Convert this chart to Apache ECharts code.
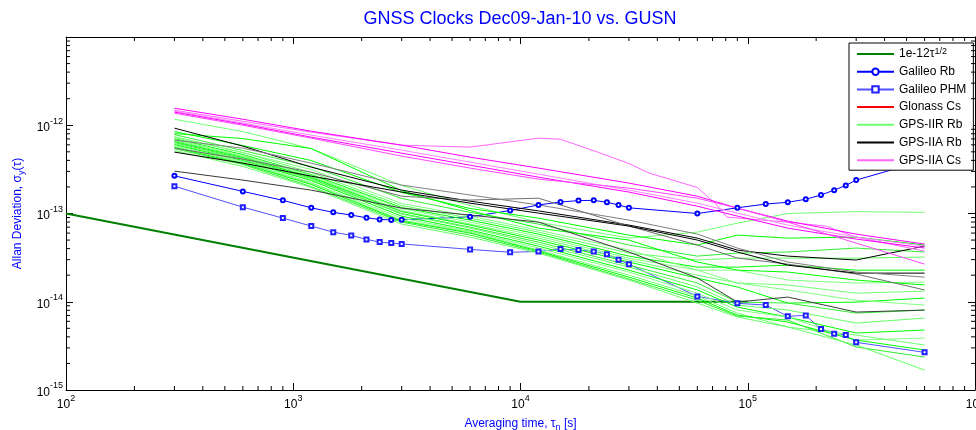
<!DOCTYPE html>
<html><head><meta charset="utf-8">
<script src="https://cdn.jsdelivr.net/npm/echarts@6/dist/echarts.min.js"></script>
<style>html,body{margin:0;padding:0;background:#fff}#c{width:976px;height:430px}</style>
</head><body><div id="c"></div>
<script>
// ---------------- data ----------------
const chartTitle = 'GNSS Clocks Dec09-Jan-10 vs. GUSN';
const xTitle = 'Averaging time, τ{sub|n} [s]';
const yTitle = 'Allan Deviation, σ{sub|y}(τ)';
const legendNames = ['1e-12τ^1/2', 'Galileo Rb', 'Galileo PHM', 'Glonass Cs', 'GPS-IIR Rb', 'GPS-IIA Rb', 'GPS-IIA Cs'];

// reference slope line
const refTau = [100, 10000, 100000];
const refAdev = [1e-13, 1e-14, 1e-14];

// Galileo clocks
const galTau = [300,600,900,1200,1500,1800,2100,2400,2700,3000,6000,9000,12000,15000,18000,21000,24000,27000,30000,60000,90000,120000,150000,180000,210000,240000,270000,300000,600000];
const galileoRb = [2.67e-13,1.78e-13,1.41e-13,1.16e-13,1.03e-13,9.6e-14,8.94e-14,8.57e-14,8.45e-14,8.5e-14,9.17e-14,1.08e-13,1.25e-13,1.35e-13,1.40e-13,1.41e-13,1.34e-13,1.25e-13,1.16e-13,1.0e-13,1.16e-13,1.28e-13,1.34e-13,1.45e-13,1.62e-13,1.84e-13,2.08e-13,2.39e-13,4.0e-13];
const galileoPHM = [2.04e-13,1.18e-13,8.87e-14,7.2e-14,6.15e-14,5.65e-14,5.09e-14,4.75e-14,4.62e-14,4.52e-14,3.92e-14,3.64e-14,3.71e-14,3.95e-14,3.85e-14,3.72e-14,3.45e-14,3.0e-14,2.66e-14,1.15e-14,9.6e-15,9.18e-15,6.84e-15,7.0e-15,4.91e-15,4.34e-15,4.2e-15,3.47e-15,2.67e-15];

// GPS / Glonass clocks sampled on a common tau grid
const tauGrid = [300, 600, 1200, 3000, 6000, 12000, 30000, 60000, 90000, 150000, 300000, 600000];
const glonassCs = [];

const gpsIIR_01 = [1.17e-12,8.48e-13,5.44e-13,2.08e-13,1.23e-13,7.98e-14,5.26e-14,6.15e-14,7.78e-14,1.0e-13,1.05e-13,1.03e-13];
const gpsIIR_02 = [8.48e-13,5.89e-13,3.98e-13,1.73e-13,1.14e-13,8.86e-14,5.69e-14,4.39e-14,5.69e-14,5.26e-14,5.40e-14,4.39e-14];
const gpsIIR_03 = [7.84e-13,5.17e-13,3.41e-13,1.48e-13,1.03e-13,7.58e-14,4.39e-14,3.29e-14,3.56e-14,3.66e-14,4.06e-14,3.66e-14];
const gpsIIR_04 = [7.44e-13,4.90e-13,2.91e-13,1.23e-13,8.86e-14,6.15e-14,3.56e-14,2.97e-14,3.12e-14,3.12e-14,3.12e-14,3.21e-14];
const gpsIIR_05 = [7.06e-13,4.66e-13,2.76e-13,1.17e-13,8.41e-14,5.84e-14,3.29e-14,2.47e-14,2.47e-14,2.60e-14,2.28e-14,2.28e-14];
const gpsIIR_06 = [6.88e-13,4.54e-13,2.69e-13,1.14e-13,7.98e-14,5.54e-14,3.12e-14,2.28e-14,2.28e-14,1.76e-14,1.63e-14,1.67e-14];
const gpsIIR_07 = [6.71e-13,4.42e-13,2.62e-13,1.08e-13,7.58e-14,5.26e-14,2.97e-14,2.00e-14,1.63e-14,1.55e-14,1.25e-14,1.32e-14];
const gpsIIR_08 = [6.53e-13,4.31e-13,2.56e-13,1.05e-13,7.38e-14,5.00e-14,2.82e-14,1.85e-14,1.47e-14,9.66e-15,9.91e-15,1.10e-14];
const gpsIIR_09 = [6.36e-13,4.19e-13,2.49e-13,1.00e-13,7.00e-14,4.74e-14,2.60e-14,1.63e-14,9.91e-15,9.66e-15,7.44e-15,8.05e-15];
const gpsIIR_10 = [6.20e-13,4.09e-13,2.43e-13,9.83e-14,6.83e-14,4.50e-14,2.47e-14,1.47e-14,9.17e-15,8.05e-15,5.73e-15,6.53e-15];
const gpsIIR_11 = [6.04e-13,3.98e-13,2.36e-13,9.33e-14,6.48e-14,4.27e-14,2.28e-14,1.36e-14,8.70e-15,6.71e-15,4.42e-15,4.78e-15];
const gpsIIR_12 = [5.89e-13,3.88e-13,2.24e-13,8.86e-14,6.31e-14,4.06e-14,2.17e-14,1.25e-14,8.05e-15,6.71e-15,3.68e-15,3.88e-15];
const gpsIIR_13 = [5.73e-13,3.78e-13,2.19e-13,8.41e-14,6.15e-14,3.85e-14,2.00e-14,1.16e-14,7.44e-15,5.17e-15,4.19e-15,3.23e-15];
const gpsIIR_14 = [5.59e-13,3.68e-13,2.13e-13,8.20e-14,5.99e-14,3.75e-14,1.90e-14,1.10e-14,7.06e-15,5.89e-15,3.68e-15,2.84e-15];
const gpsIIR_15 = [5.44e-13,3.59e-13,2.02e-13,7.98e-14,5.69e-14,3.66e-14,1.81e-14,1.04e-14,6.88e-15,6.20e-15,3.07e-15,2.36e-15];
const gpsIIR_16 = [5.17e-13,3.41e-13,1.97e-13,7.58e-14,5.40e-14,3.56e-14,1.76e-14,9.66e-15,6.71e-15,5.17e-15,3.23e-15,1.68e-15];
const gpsIIR_17 = [8.05e-13,7.06e-13,5.44e-13,1.82e-13,1.08e-13,6.83e-14,5.00e-14,2.82e-14,2.28e-14,2.17e-14,1.76e-14,1.55e-14];
const gpsIIR_18 = [7.25e-13,4.90e-13,3.15e-13,1.30e-13,9.33e-14,6.48e-14,3.85e-14,2.28e-14,1.63e-14,1.36e-14,1.04e-14,9.17e-15];

const gpsIIARb_1 = [9.27e-13,5.80e-13,3.35e-13,1.84e-13,1.38e-13,1.07e-13,7.39e-14,5.26e-14,3.85e-14,3.29e-14,2.97e-14,4.27e-14];
const gpsIIARb_2 = [5.50e-13,4.13e-13,2.94e-13,1.57e-13,1.42e-13,1.49e-13,7.20e-14,4.39e-14,3.13e-14,2.67e-14,2.06e-14,1.36e-14];
const gpsIIARb_3 = [4.96e-13,3.72e-13,2.65e-13,1.75e-13,1.31e-13,1.01e-13,7.20e-14,5.00e-14,3.66e-14,2.60e-14,2.11e-14,2.11e-14];
const gpsIIARb_4 = [3.02e-13,2.39e-13,1.84e-13,1.15e-13,9.59e-14,7.99e-14,3.66e-14,1.86e-14,9.92e-15,1.13e-14,7.64e-15,8.05e-15];
const gpsIIARb_5 = [6.78e-13,5.50e-13,3.72e-13,2.10e-13,1.62e-13,1.25e-13,8.42e-14,5.84e-14,4.06e-14,2.82e-14,2.17e-14,1.90e-14];

// GPS-IIA Cs clock with the mid-term bump has its own tau samples
const bumpTau = [300, 600, 1200, 3000, 6000, 12000, 15000, 22000, 30000, 37000, 60000, 72000, 81000, 150000, 220000, 300000, 600000];
const gpsIIACs_1 = [1.48e-12,1.11e-12,8.35e-13,5.95e-13,5.65e-13,7.14e-13,6.94e-13,4.93e-13,3.68e-13,2.86e-13,1.97e-13,1.30e-13,9.10e-14,7.98e-14,7.20e-14,5.40e-14,3.75e-14];
const gpsIIACs_2 = [1.56e-12,1.17e-12,8.57e-13,5.95e-13,4.35e-13,3.27e-13,2.21e-13,1.57e-13,1.15e-13,8.20e-14,5.84e-14,4.50e-14];
const gpsIIACs_3 = [1.44e-12,1.06e-12,7.73e-13,5.22e-13,3.82e-13,2.79e-13,1.84e-13,1.31e-13,1.01e-13,7.39e-14,5.40e-14,4.27e-14];
const gpsIIACs_4 = [1.41e-12,1.03e-12,7.33e-13,4.83e-13,3.53e-13,2.58e-13,1.75e-13,1.21e-13,9.35e-14,6.83e-14,5.13e-14,4.06e-14];
const gpsIIACs_5 = [1.37e-12,1.0e-12,7.14e-13,4.47e-13,3.27e-13,2.45e-13,1.94e-13,1.49e-13,1.15e-13,7.99e-14,4.62e-14,2.67e-14];

// ---------------- chart ----------------
const FONT = 'Liberation Sans, Arial, Helvetica, sans-serif';
const pts = (xs, ys) => ys.map((y, i) => [xs[i], y]);

const greenSets = [gpsIIR_01,gpsIIR_02,gpsIIR_03,gpsIIR_04,gpsIIR_05,gpsIIR_06,gpsIIR_07,gpsIIR_08,gpsIIR_09,gpsIIR_10,gpsIIR_11,gpsIIR_12,gpsIIR_13,gpsIIR_14,gpsIIR_15,gpsIIR_16,gpsIIR_17,gpsIIR_18];
const greenCols = ['#70ff70','#00ff00','#33ee33','#66ff66','#00ff00','#80ff80'];
const blackSets = [gpsIIARb_1,gpsIIARb_2,gpsIIARb_3,gpsIIARb_4,gpsIIARb_5];
const blackCols = ['#000000','#6e6e6e','#000000','#3a3a3a','#808080'];
const magSets = [[bumpTau, gpsIIACs_1],[tauGrid, gpsIIACs_2],[tauGrid, gpsIIACs_3],[tauGrid, gpsIIACs_4],[tauGrid, gpsIIACs_5]];
const magCols = ['#ff66ff','#ff00ff','#ff80ff','#ff00ff','#ff44ff'];

function lineSeries(name, data, color, width, extra) {
  return Object.assign({
    type: 'line', name: name, data: data, showSymbol: false, symbol: 'none',
    lineStyle: {color: color, width: width || 1}, itemStyle: {color: color},
    emphasis: {disabled: true}, silent: true, z: 2
  }, extra || {});
}

const series = [];
series.push(lineSeries(legendNames[0], pts(refTau, refAdev), '#008000', 2));
series.push(lineSeries(legendNames[1], pts(galTau, galileoRb), '#0000ff', 1,
  {showSymbol: true, symbol: 'emptyCircle', symbolSize: 4, itemStyle: {color: '#0000ff', borderWidth: 1}}));
series.push(lineSeries(legendNames[2], pts(galTau, galileoPHM), '#5050ff', 1,
  {showSymbol: true, symbol: 'emptyRect', symbolSize: 4, itemStyle: {color: '#2020ff', borderWidth: 1}}));
series.push(lineSeries(legendNames[3], pts(tauGrid, glonassCs), '#ff0000', 1));
greenSets.forEach((s, i) => series.push(lineSeries(legendNames[4], pts(tauGrid, s), greenCols[i % greenCols.length], 1)));
blackSets.forEach((s, i) => series.push(lineSeries(legendNames[5], pts(tauGrid, s), blackCols[i], 1)));
magSets.forEach((s, i) => series.push(lineSeries(legendNames[6], pts(s[0], s[1]), magCols[i], 1)));

// minor log ticks on all four sides (drawn through the axes' scales)
const minorTicks = [];
[2,3,4,5].forEach(d => { for (let k = 2; k <= 9; k++) { const v = k * Math.pow(10, d); minorTicks.push([v, 1e-15, 0]); minorTicks.push([v, 1e-11, 1]); } });
[-15,-14,-13,-12].forEach(d => { for (let k = 2; k <= 9; k++) { const v = k * Math.pow(10, d); minorTicks.push([100, v, 2]); minorTicks.push([1e6, v, 3]); } });
series.push({
  type: 'custom', silent: true, z: 5, clip: false,
  data: minorTicks, encode: {x: 0, y: 1},
  renderItem: function (params, api) {
    const side = api.value(2);
    const p = api.coord([api.value(0), api.value(1)]);
    const L = 4;
    let sh;
    if (side === 0) sh = {x1: p[0], y1: p[1], x2: p[0], y2: p[1] - L};
    else if (side === 1) sh = {x1: p[0], y1: p[1], x2: p[0], y2: p[1] + L};
    else if (side === 2) sh = {x1: p[0], y1: p[1], x2: p[0] + L, y2: p[1]};
    else sh = {x1: p[0], y1: p[1], x2: p[0] - L, y2: p[1]};
    return {type: 'line', shape: sh, style: {stroke: '#000', lineWidth: 1}};
  }
});

const supRich = {
  base: {fontSize: 12, fontFamily: FONT, color: '#000', lineHeight: 17, verticalAlign: 'bottom'},
  sup: {fontSize: 9, fontFamily: FONT, color: '#000', lineHeight: 17, verticalAlign: 'top'}
};
const expLabel = v => '{base|10}{sup|' + Math.round(Math.log10(v)) + '}';

const tickStyle = {show: true, inside: true, length: 7, lineStyle: {color: '#000', width: 1}};
const lineStyleAx = {show: true, onZero: false, lineStyle: {color: '#000', width: 1}};

const hideSym = {opacity: 0};
const legendData = [
  {name: legendNames[0], itemStyle: hideSym},
  {name: legendNames[1], itemStyle: {borderWidth: 1}},
  {name: legendNames[2], itemStyle: {borderWidth: 1}},
  {name: legendNames[3], itemStyle: hideSym},
  {name: legendNames[4], itemStyle: hideSym},
  {name: legendNames[5], itemStyle: hideSym},
  {name: legendNames[6], itemStyle: hideSym}
];

const option = {
  animation: false,
  backgroundColor: '#fff',
  textStyle: {fontFamily: FONT},
  title: {
    text: chartTitle, left: 520, top: 10, textAlign: 'center', padding: 0,
    textStyle: {color: '#0000ff', fontSize: 18, fontWeight: 'normal', fontFamily: FONT}
  },
  grid: {left: 66, right: 1, top: 37, bottom: 40, containLabel: false, outerBoundsMode: 'none'},
  legend: {
    orient: 'vertical', left: 849, top: 43,
    data: legendData, selectedMode: false,
    itemWidth: 37, itemHeight: 8, itemGap: 3.7,
    padding: [4, 7, 3, 7],
    backgroundColor: '#fff', borderColor: '#000', borderWidth: 1, borderRadius: 0,
    textStyle: {fontSize: 12, color: '#000', fontFamily: FONT, lineHeight: 14,
      rich: {sup: {fontSize: 9, fontFamily: FONT, color: '#000', lineHeight: 14, verticalAlign: 'top'}}},
    formatter: function (n) { return n.indexOf('^') >= 0 ? n.replace(/\^(.*)$/, '{sup|$1}') : n; }
  },
  xAxis: [
    {type: 'log', logBase: 10, min: 100, max: 1e6, position: 'bottom',
     axisLine: lineStyleAx, axisTick: tickStyle, splitLine: {show: false},
     axisLabel: {margin: 4, formatter: expLabel, rich: supRich},
     name: xTitle, nameLocation: 'middle', nameGap: 21,
     nameTextStyle: {color: '#0000ff', fontSize: 12, fontFamily: FONT, lineHeight: 16,
       rich: {sub: {fontSize: 9, color: '#0000ff', fontFamily: FONT, lineHeight: 16, verticalAlign: 'bottom'}}}},
    {type: 'log', logBase: 10, min: 100, max: 1e6, position: 'top',
     axisLine: lineStyleAx, axisTick: tickStyle, splitLine: {show: false}, axisLabel: {show: false}}
  ],
  yAxis: [
    {type: 'log', logBase: 10, min: 1e-15, max: 1e-11, position: 'left',
     axisLine: lineStyleAx, axisTick: tickStyle, splitLine: {show: false},
     axisLabel: {margin: 3, formatter: expLabel, rich: supRich, showMaxLabel: false},
     name: yTitle, nameLocation: 'middle', nameGap: 40, nameRotate: 90,
     nameTextStyle: {color: '#0000ff', fontSize: 12, fontFamily: FONT, lineHeight: 16,
       rich: {sub: {fontSize: 9, color: '#0000ff', fontFamily: FONT, lineHeight: 16, verticalAlign: 'bottom'}}}},
    {type: 'log', logBase: 10, min: 1e-15, max: 1e-11, position: 'right',
     axisLine: lineStyleAx, axisTick: tickStyle, splitLine: {show: false}, axisLabel: {show: false}}
  ],
  series: series
};

const chart = echarts.init(document.getElementById('c'), null, {renderer: 'canvas'});
chart.setOption(option);
</script>
</body></html>
